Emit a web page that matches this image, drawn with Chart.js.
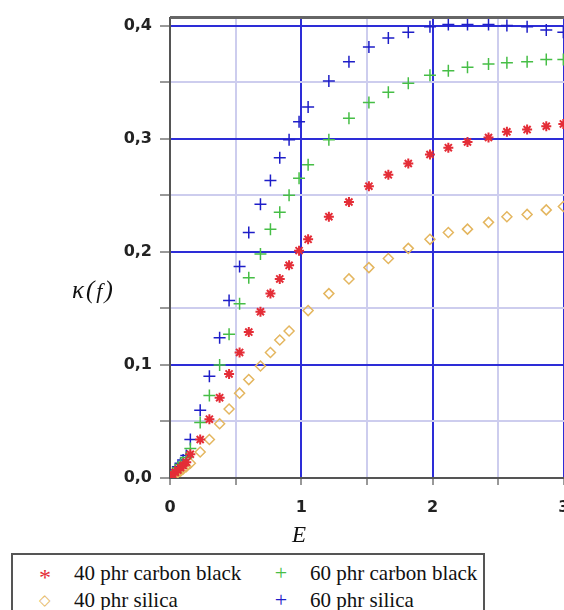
<!DOCTYPE html>
<html>
<head>
<meta charset="utf-8">
<script src="https://cdn.jsdelivr.net/npm/chart.js@4"></script>
<style>
  html, body { margin: 0; padding: 0; background: #fff; overflow: hidden; }
  #wrap { position: absolute; left: 0; top: 0; width: 600px; height: 610px; }
  .lbl { position: absolute; font-family: "Liberation Serif", serif; font-style: italic; color: #111; white-space: nowrap; }
  #legend { position: absolute; left: 11px; top: 553px; width: 470px; height: 70px; border: 2px solid #555; background: #fff;
            font-family: "Liberation Serif", serif; font-size: 21px; color: #111; }
  .item { position: absolute; white-space: nowrap; line-height: 24px; }
  .mk { position: absolute; width: 20px; text-align: center; }
</style>
</head>
<body>
<div id="wrap"><canvas id="chart" width="600" height="610"></canvas></div>
<div class="lbl" id="ylab" style="left:72px; top:276px; font-size:25px; letter-spacing:2px;">κ(<span style="font-size:22px">f</span>)</div>
<div class="lbl" id="xlab" style="left:292px; top:522px; font-size:23px;">E</div>
<div id="legend"></div>
<script>
// E values (x) shared by all four series
const E = [0, 0.02, 0.04, 0.06, 0.08, 0.10, 0.124, 0.155, 0.23, 0.30, 0.378, 0.45, 0.53, 0.60,
  0.689, 0.765, 0.836, 0.907, 0.983, 1.052, 1.21, 1.363, 1.515, 1.663, 1.815, 1.98, 2.12,
  2.266, 2.426, 2.566, 2.72, 2.866, 2.996];

const kCb40 = [0.001, 0.003, 0.005, 0.007, 0.009, 0.011, 0.014, 0.021, 0.034, 0.052, 0.071, 0.092,
  0.111, 0.129, 0.147, 0.163, 0.176, 0.188, 0.201, 0.211, 0.231, 0.244, 0.258, 0.268, 0.278,
  0.286, 0.292, 0.297, 0.301, 0.306, 0.308, 0.311, 0.313];
const kCb60 = [0.001, 0.003, 0.006, 0.009, 0.012, 0.014, 0.018, 0.026, 0.049, 0.073, 0.100, 0.127,
  0.154, 0.177, 0.198, 0.220, 0.235, 0.250, 0.265, 0.277, 0.299, 0.318, 0.332, 0.341, 0.349,
  0.356, 0.360, 0.363, 0.366, 0.367, 0.368, 0.370, 0.370];
const kSi40 = [0.000, 0.002, 0.003, 0.005, 0.006, 0.008, 0.010, 0.013, 0.023, 0.034, 0.048, 0.061,
  0.075, 0.087, 0.099, 0.111, 0.122, 0.130, null, 0.148, 0.163, 0.176, 0.186, 0.194, 0.203,
  0.211, 0.217, 0.220, 0.226, 0.231, 0.233, 0.237, 0.240];
const kSi60 = [0.001, 0.004, 0.007, 0.010, 0.013, 0.016, 0.020, 0.034, 0.060, 0.090, 0.124, 0.157,
  0.187, 0.217, 0.242, 0.263, 0.283, 0.299, 0.315, 0.328, 0.351, 0.368, 0.381, 0.389, 0.394,
  0.399, 0.401, 0.401, 0.401, 0.400, 0.399, 0.396, 0.394];

const names = ['40 phr carbon black', '60 phr carbon black', '40 phr silica', '60 phr silica'];
const xTicks = [0, 0.5, 1, 1.5, 2, 2.5, 3];
const yTicks = [0, 0.05, 0.1, 0.15, 0.2, 0.25, 0.3, 0.35, 0.4];

function pts(arr) {
    return E.map((e, i) => ({ x: e, y: arr[i] })).filter(p => p.y !== null);
}

const isMajor = (v, f) => Math.abs(v * f - Math.round(v * f)) < 1e-6;
const gridCol = f => c => isMajor(c.tick.value, f) ? 'rgb(45,45,215)' : 'rgb(205,205,238)';

const frame = {
    id: 'frame',
    afterDraw(chart) {
        const a = chart.chartArea, ctx = chart.ctx;
        ctx.save();
        ctx.strokeStyle = '#666';
        ctx.lineWidth = 3;
        ctx.beginPath();
        ctx.moveTo(a.left, a.top);
        ctx.lineTo(a.right, a.top);
        ctx.stroke();
        ctx.restore();
    }
};

const tickFont = { family: 'DejaVu Sans', weight: 'bold', size: 16 };

new Chart(document.getElementById('chart').getContext('2d'), {
    type: 'scatter',
    data: {
        datasets: [
            { label: names[0], data: pts(kCb40), pointStyle: 'star', pointRadius: 5, borderWidth: 2,
              borderColor: 'rgb(228,45,55)', backgroundColor: 'rgb(228,45,55)' },
            { label: names[1], data: pts(kCb60), pointStyle: 'cross', pointRadius: 6, borderWidth: 1.5,
              borderColor: 'rgb(70,190,70)', backgroundColor: 'rgb(70,190,70)' },
            { label: names[2], data: pts(kSi40), pointStyle: 'rectRot', pointRadius: 5, borderWidth: 1.5,
              borderColor: 'rgb(228,182,95)', backgroundColor: 'rgba(0,0,0,0)' },
            { label: names[3], data: pts(kSi60), pointStyle: 'cross', pointRadius: 6, borderWidth: 1.5,
              borderColor: 'rgb(30,30,200)', backgroundColor: 'rgb(30,30,200)' }
        ]
    },
    options: {
        responsive: false,
        devicePixelRatio: 1,
        animation: false,
        layout: { autoPadding: false, padding: { top: 14, right: 23, left: 0, bottom: 0 } },
        plugins: { legend: { display: false }, tooltip: { enabled: false } },
        scales: {
            x: {
                min: 0, max: 3.1,
                afterBuildTicks: s => { s.ticks = xTicks.map(v => ({ value: v })); },
                afterFit: s => { s.height = 132; },
                border: { color: '#555', width: 2 },
                grid: { color: gridCol(1), lineWidth: 2, tickColor: '#333', tickLength: 7, tickWidth: 1 },
                ticks: {
                    padding: 13, color: '#222', font: tickFont, maxRotation: 0,
                    callback: v => isMajor(v, 1) ? String(v) : ''
                }
            },
            y: {
                min: 0, max: 0.407,
                afterBuildTicks: s => { s.ticks = yTicks.map(v => ({ value: v })); },
                afterFit: s => { s.width = 170; },
                border: { color: '#555', width: 2 },
                grid: { color: gridCol(10), lineWidth: 2, tickColor: '#333', tickLength: 10, tickWidth: 1 },
                ticks: {
                    padding: 8, color: '#222', font: tickFont,
                    callback: v => isMajor(v, 10) ? v.toFixed(1).replace('.', ',') : ''
                }
            }
        }
    },
    plugins: [frame]
});

// legend, two columns like the original
const marks = [
    { ch: '*', color: 'rgb(228,45,55)', size: 24, dy: 4 },
    { ch: '+', color: 'rgb(70,190,70)', size: 22, dy: 0 },
    { ch: '◇', color: 'rgb(228,182,95)', size: 15, dy: 0 },
    { ch: '+', color: 'rgb(30,30,200)', size: 22, dy: 0 }
];
const legend = document.getElementById('legend');
names.forEach((n, i) => {
    const col = i % 2, row = Math.floor(i / 2);
    const it = document.createElement('div');
    it.className = 'item';
    it.style.left = (col ? 258 : 22) + 'px';
    it.style.top = (row ? 33 : 6) + 'px';
    it.innerHTML = '<span class="mk" style="left:0;top:' + marks[i].dy + 'px;color:' + marks[i].color +
        ';font-size:' + marks[i].size + 'px">' + marks[i].ch + '</span><span style="margin-left:39px">' + n + '</span>';
    legend.appendChild(it);
});
</script>
</body>
</html>
